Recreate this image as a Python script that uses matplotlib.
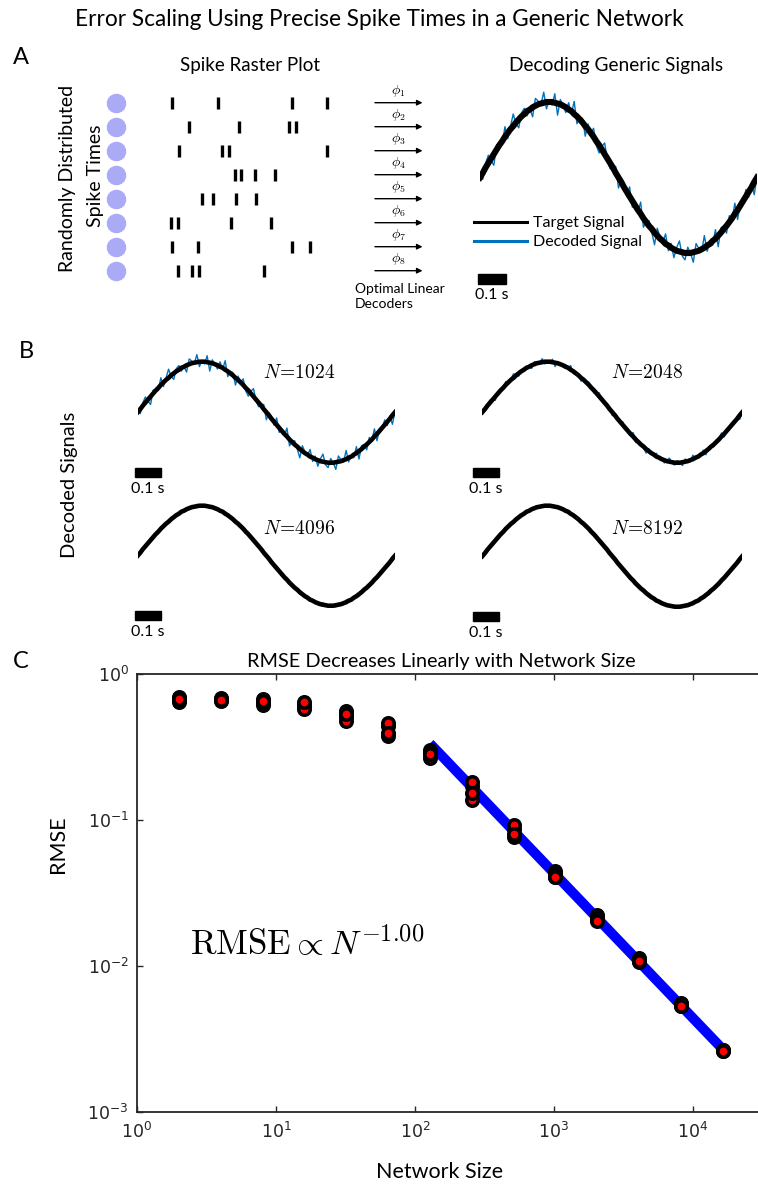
import numpy as np
import matplotlib
matplotlib.use("Agg")
import matplotlib.pyplot as plt
from matplotlib.patches import Rectangle

plt.rcParams['font.family'] = ['Lato', 'DejaVu Sans']

W, H = 758, 1185

# ---------------- data ----------------
network_size = [2, 4, 8, 16, 32, 64, 128, 256, 512, 1024, 2048, 4096, 8192, 16384]
# one list per trial (drawn in this order, last one on top)
rmse_trial1 = [0.701, 0.690, 0.669, 0.613, 0.562, 0.440, 0.302, 0.138, 0.0759, 0.0444, 0.0222, 0.0113, 0.00558, 0.00266]
rmse_trial2 = [0.648, 0.658, 0.618, 0.604, 0.508, 0.379, 0.266, 0.171, 0.0868, 0.0427, 0.0213, 0.0106, 0.00532, 0.00260]
rmse_trial3 = [0.685, 0.674, 0.643, 0.576, 0.477, 0.462, 0.292, 0.183, 0.0924, 0.0404, 0.0208, 0.0110, 0.00545, 0.00264]
rmse_trial4 = [0.674, 0.667, 0.656, 0.643, 0.532, 0.394, 0.283, 0.152, 0.0802, 0.0409, 0.0204, 0.0108, 0.00535, 0.00263]
fit_min_size = 512
fit_start_size = 128
fit_label = r'$\mathrm{RMSE} \propto N^{-1.00}$'

# spike times (arbitrary time units, 0-100) for the 8 neurons
spike_times = [
    [4.3, 31.0, 74.9, 95.1],
    [14.3, 43.5, 72.8, 77.1],
    [8.4, 33.5, 37.8, 95.1],
    [41.4, 44.5, 53.1, 64.9],
    [21.6, 28.1, 41.6, 53.5],
    [3.5, 7.8, 38.6, 62.2],
    [4.3, 19.2, 74.9, 85.5],
    [7.8, 16.1, 19.8, 58.4],
]

# target signal, sampled every 10 ms over 1 s
sample_step = 0.01
target_signal = [
    0.00, 0.06, 0.13, 0.19, 0.25, 0.31, 0.37, 0.43, 0.48, 0.54, 0.59, 0.64, 0.68,
    0.73, 0.77, 0.81, 0.84, 0.88, 0.90, 0.93, 0.95, 0.97, 0.98, 0.99, 1.00, 1.00,
    1.00, 0.99, 0.98, 0.97, 0.95, 0.93, 0.90, 0.88, 0.84, 0.81, 0.77, 0.73, 0.68,
    0.64, 0.59, 0.54, 0.48, 0.43, 0.37, 0.31, 0.25, 0.19, 0.13, 0.06, 0.00,
    -0.06, -0.13, -0.19, -0.25, -0.31, -0.37, -0.43, -0.48, -0.54, -0.59, -0.64,
    -0.68, -0.73, -0.77, -0.81, -0.84, -0.88, -0.90, -0.93, -0.95, -0.97, -0.98,
    -0.99, -1.00, -1.00,
    -1.00, -0.99, -0.98, -0.97, -0.95, -0.93, -0.90, -0.88, -0.84, -0.81, -0.77,
    -0.73, -0.68, -0.64, -0.59, -0.54, -0.48, -0.43, -0.37, -0.31, -0.25, -0.19,
    -0.13, -0.06, 0.00,
]
# decoding error shape (normalised), estimated from the blue trace
decoded_residual = [
    0.3, -1.2, 0.8, 1.5, -0.4, -2.1, 0.9, 0.2, -0.7, 1.9,
    -1.1, 0.5, 2.3, -0.3, -1.6, 0.7, 1.1, -0.9, 0.1, -1.8,
    1.4, 0.6, -0.2, 2.0, -1.3, 0.4, -0.6, 1.7, -2.2, 0.9,
    0.0, -1.0, 1.3, -0.5, 2.4, -1.4, 0.3, 0.8, -1.9, 1.0,
    -0.1, 1.6, -0.8, -1.5, 0.6, 2.1, -0.3, -1.1, 0.4, 1.2,
    -2.0, 0.7, 0.2, -0.9, 1.8, -1.2, 0.5, -0.4, 2.2, -1.7,
    0.1, 1.0, -0.6, -2.3, 1.4, 0.3, -0.2, 1.9, -1.0, 0.8,
    -1.6, 0.6, 2.0, -0.7, -1.3, 1.1, 0.0, -1.9, 1.5, 0.4,
    -0.5, 2.3, -1.1, 0.2, -0.8, 1.7, -2.1, 0.9, 0.5, -1.4,
    1.2, -0.3, 2.0, -1.8, 0.6, -0.1, 1.3, -1.0, 0.7, -2.4,
    0.2,
]
noise_level_a = 0.07
panel_sizes = [1024, 2048, 4096, 8192]
noise_levels_b = [0.075, 0.035, 0.018, 0.008]

# ---------------- helpers ----------------
def fig_rect(x0, y0, x1, y1):
    return [x0 / W, 1 - y1 / H, (x1 - x0) / W, (y1 - y0) / H]

def fxy(x, y):
    return x / W, 1 - y / H

def signal_axes(x0, x1, ymid, amp, lim=1.8):
    ax = fig.add_axes(fig_rect(x0, ymid - lim * amp, x1, ymid + lim * amp))
    ax.set_xlim(0, 1)
    ax.set_ylim(-lim, lim)
    ax.axis('off')
    return ax

def draw_signal(ax, noise, black_lw, bar_t0, bar_top, bar_bot, txt_y):
    t = np.arange(len(target_signal)) * sample_step
    target = np.array(target_signal)
    decoded = target + noise * np.array(decoded_residual)
    ax.plot(t, decoded, color='#0072BD', lw=1.0, label='Decoded Signal', zorder=2)
    ax.plot(t, target, color='k', lw=black_lw, label='Target Signal', zorder=3)
    ax.add_patch(Rectangle((bar_t0, bar_bot), 0.1, bar_top - bar_bot,
                           color='k', clip_on=False))
    ax.text(bar_t0 + 0.05, txt_y, '0.1 s', ha='center', va='center', fontsize=11.5)


fig = plt.figure(figsize=(W / 100, H / 100), dpi=100)

fig.text(*fxy(379, 20), 'Error Scaling Using Precise Spike Times in a Generic Network',
         ha='center', va='center', fontsize=16.3)
for letter, (lx, ly) in zip('ABC', [(21, 58), (26, 352), (21, 662)]):
    fig.text(*fxy(lx, ly), letter, ha='center', va='center', fontsize=17)

# ---------------- panel A ----------------
ax_r = fig.add_axes(fig_rect(165, 90.7, 335, 282.7))
ax_r.set_xlim(0, 100)
ax_r.set_ylim(8.5, 0.5)
ax_r.axis('off')
rows = np.arange(1, len(spike_times) + 1)
ax_r.eventplot(spike_times, lineoffsets=rows, linelengths=0.5, linewidths=2.4, colors='k')
ax_r.scatter(np.full(len(rows), -28.8), rows, s=170, color='#aaaaf7', clip_on=False)
for i in rows:
    ax_r.annotate('', xy=(151.5, i), xytext=(123.5, i), annotation_clip=False,
                  arrowprops=dict(arrowstyle='-|>', color='k', lw=1, mutation_scale=8,
                                  shrinkA=0, shrinkB=0))
    ax_r.text(137.4, i - 0.47, r'$\phi_{%d}$' % i, ha='center', va='center',
              fontsize=10, math_fontfamily='cm', clip_on=False)

fig.text(*fxy(250, 66), 'Spike Raster Plot', ha='center', va='center', fontsize=13.5)
fig.text(*fxy(67, 178), 'Randomly Distributed', ha='center', va='center',
         rotation=90, fontsize=14)
fig.text(*fxy(96, 176), 'Spike Times', ha='center', va='center', rotation=90, fontsize=14)
fig.text(*fxy(355, 283), 'Optimal Linear\nDecoders', ha='left', va='top',
         fontsize=10, linespacing=1.35)

fig.text(*fxy(616, 65), 'Decoding Generic Signals', ha='center', va='center', fontsize=13.8)
ax_a = signal_axes(480, 757, 177.5, 75.5)
draw_signal(ax_a, noise_level_a, 4.4, -0.006, -1.28, -1.415, -1.56)
h, l = ax_a.get_legend_handles_labels()
leg = ax_a.legend(h[::-1], l[::-1], loc='upper left', bbox_to_anchor=fxy(474, 216),
                  bbox_transform=fig.transFigure, frameon=False, fontsize=11.5,
                  handlelength=3.3, handletextpad=0.4, borderpad=0, borderaxespad=0,
                  labelspacing=0.3)
for line in leg.get_lines():
    line.set_linewidth(2.2)

# ---------------- panel B ----------------
fig.text(*fxy(70, 485), 'Decoded Signals', ha='center', va='center', rotation=90, fontsize=14.5)
b_boxes = [(137.7, 395, 412.2, 50.5, -0.009), (482.3, 742.3, 412.2, 50.5, -0.035),
           (137.7, 395, 555.7, 50.0, -0.009), (482.3, 742.3, 556.2, 50.5, -0.035)]
b_labels_xy = [(263, 372), (611, 372), (263, 528), (611, 528)]
for size, noise, (x0, x1, ym, amp, t0), (lx, ly) in zip(panel_sizes, noise_levels_b,
                                                         b_boxes, b_labels_xy):
    ax_b = signal_axes(x0, x1, ym, amp)
    draw_signal(ax_b, noise, 3.3, t0, -1.1, -1.285, -1.52)
    fig.text(*fxy(lx, ly), r'$N\!=\!%d$' % size, ha='left', va='center',
             fontsize=14, math_fontfamily='cm')

# ---------------- panel C ----------------
ax_c = fig.add_axes(fig_rect(137, 674, 764.6, 1112))
sizes = np.array(network_size, dtype=float)
trials = np.array([rmse_trial1, rmse_trial2, rmse_trial3, rmse_trial4])
sel = sizes >= fit_min_size
coef = np.polyfit(np.log10(sizes[sel]), np.log10(trials.mean(axis=0)[sel]), 1)
fit_x = sizes[sizes >= fit_start_size]
ax_c.plot(fit_x, 10 ** np.polyval(coef, np.log10(fit_x)), color='#0000ff', lw=7.2,
          solid_capstyle='butt', zorder=2)
for trial in trials:
    ax_c.plot(sizes, trial, 'o', ls='none', ms=8.2, mew=2.6, mec='k', mfc='#ff0000', zorder=3)
ax_c.set_xscale('log')
ax_c.set_yscale('log')
ax_c.set_xlim(1, 32768)
ax_c.set_ylim(1e-3, 1)
ax_c.set_xticks([1, 10, 100, 1000, 10000])
ax_c.set_yticks([1e-3, 1e-2, 1e-1, 1])
ax_c.minorticks_off()
ax_c.tick_params(which='both', direction='in', top=True, right=True, length=4.5,
                 width=1, colors='#262626', labelsize=12.5, labelfontfamily='DejaVu Sans')
ax_c.tick_params(axis='x', pad=7)
ax_c.tick_params(axis='y', pad=6)
for sp in ax_c.spines.values():
    sp.set_color('#262626')
    sp.set_linewidth(1.3)
ax_c.text(*fxy(190, 943), fit_label, transform=fig.transFigure, ha='left', va='center',
          fontsize=25, math_fontfamily='cm')

fig.text(*fxy(441, 661), 'RMSE Decreases Linearly with Network Size', ha='center',
         va='center', fontsize=14.3)
fig.text(*fxy(440, 1172), 'Network Size', ha='center', va='center', fontsize=15.5)
fig.text(*fxy(58, 844), 'RMSE', ha='center', va='center', rotation=90, fontsize=15.5)

fig.savefig('out.png', dpi=100)
